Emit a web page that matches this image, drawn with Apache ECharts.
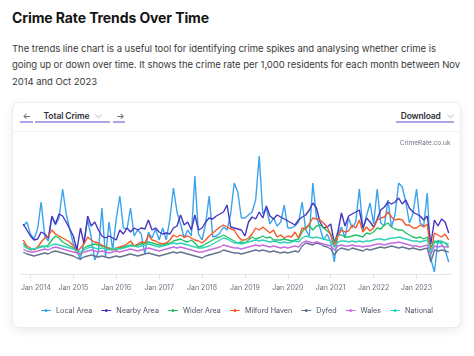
<!DOCTYPE html>
<html>
<head>
<meta charset="utf-8">
<script src="https://cdn.jsdelivr.net/npm/echarts@6/dist/echarts.min.js"></script>
<style>
  html,body{margin:0;padding:0;}
  body{width:474px;height:356px;position:relative;overflow:hidden;background:#fff;font-family:Inter,"Noto Sans",sans-serif;}
  .abs{position:absolute;white-space:nowrap;}
  #title{left:12px;top:10.2px;font-size:14px;line-height:15px;font-weight:700;color:#141414;}
  .pl{left:12px;font-size:9.5px;line-height:16.5px;color:#3a3a3a;}
  #card{position:absolute;left:12px;top:102px;width:449px;height:226px;box-sizing:border-box;border:1px solid #ececf1;border-radius:7px;background:#fff;box-shadow:0 3px 10px rgba(0,0,0,0.08);}
  #sep{position:absolute;left:13px;top:131px;width:447px;height:1px;background:#f3f3f6;}
  .tb{font-size:8.5px;line-height:10px;font-weight:600;color:#2f2f3a;top:110.7px;}
  .arrow{font-size:9px;line-height:10px;color:#555;top:110.5px;font-weight:400;}
  .ul{position:absolute;height:1.5px;background:#aaa5e4;top:121px;}
  #chart{position:absolute;left:0;top:0;width:474px;height:356px;}
</style>
</head>
<body>
<div id="title" class="abs" data-w="197">Crime Rate Trends Over Time</div>
<div class="abs pl" style="top:40.8px" data-w="424">The trends line chart is a useful tool for identifying crime spikes and analysing whether crime is</div>
<div class="abs pl" style="top:57.3px" data-w="448">going up or down over time. It shows the crime rate per 1,000 residents for each month between Nov</div>
<div class="abs pl" style="top:73.8px" data-w="85">2014 and Oct 2023</div>

<div id="card"></div>
<div id="sep"></div>
<div class="abs arrow" style="left:22.5px">&#8592;</div>
<div class="ul" style="left:19.5px;width:13px"></div>
<div class="abs tb" style="left:43.5px" data-w="46">Total Crime</div>
<svg class="abs" style="left:95px;top:113.5px" width="7" height="5"><polyline points="0.5,0.8 3.5,3.6 6.5,0.8" fill="none" stroke="#a0a3ad" stroke-width="0.8"/></svg>
<div class="ul" style="left:35px;width:75px"></div>
<div class="abs arrow" style="left:116px">&#8594;</div>
<div class="ul" style="left:112.7px;width:12.6px"></div>
<div class="abs tb" style="left:400.7px" data-w="40">Download</div>
<svg class="abs" style="left:446.5px;top:113.5px" width="7" height="5"><polyline points="0.5,0.8 3.5,3.6 6.5,0.8" fill="none" stroke="#a0a3ad" stroke-width="0.8"/></svg>
<div class="ul" style="left:396px;width:58px"></div>

<div id="chart"></div>

<script>
// ---------------- DATA ----------------
const startYear = 2013;
const startMonth = 11;
const monthCount = 120;
const tickLabels = ['Jan 2014','Jan 2015','Jan 2016','Jan 2017','Jan 2018','Jan 2019','Jan 2020','Jan 2021','Jan 2022','Jan 2023'];
const seriesNames = ['Local Area','Nearby Area','Wider Area','Milford Haven','Dyfed','Wales','National'];

const localArea = [
  48,52,40,35,45,72,38,33,57,49,
  56,85,60,45,30,24,14,34,54,37,
  14,22,66,17,52,24,55,78,46,45,
  66,38,44,40,20,42,36,45,34,46,
  34,55,86,62,50,36,44,38,98,40,
  34,50,78,37,38,41,47,44,60,91,
  82,56,56,59,62,74,118,60,66,50,
  56,48,52,69,46,46,48,52,72,44,
  38,91,57,46,34,40,32,12,40,47,
  36,56,46,52,85,44,58,71,50,85,
  51,48,74,47,60,91,87,72,51,60,
  85,51,48,81,15,2,34,30,24,12
];
const nearbyArea = [
  50,44,38,34,35,42,40,36,58,50,
  60,58,52,45,38,24,46,30,58,48,
  52,44,38,36,38,36,34,44,40,46,
  42,46,44,46,45,54,44,46,42,40,
  41,40,46,48,59,49,52,44,59,44,
  46,52,56,55,58,60,62,69,47,46,
  45,44,38,52,57,55,62,56,68,58,
  55,59,57,55,53,51,49,54,57,59,
  64,71,66,52,46,47,50,31,42,61,
  48,58,60,62,64,46,56,52,47,55,
  64,67,72,70,72,76,70,74,66,62,
  60,58,54,58,30,54,48,55,52,41
];
const widerArea = [
  31,26,24,25,26,28,27,29,34,38,
  36,32,30,28,26,22,19,26,28,29,
  30,29,28,27,26,25,24,26,27,28,
  29,28,29,30,31,32,31,30,29,29,
  30,31,33,34,35,33,32,34,31,27,
  28,30,32,34,36,37,39,37,35,33,
  31,32,31,34,37,35,36,38,36,37,
  34,34,34,35,34,33,34,35,42,47,
  48,44,48,49,46,43,40,31,39,39,
  37,37,38,39,38,37,41,40,42,46,
  45,49,51,47,45,44,44,41,39,37,
  36,37,35,37,27,33,32,33,31,27
];
const milfordHaven = [
  34,28,26,24,27,32,36,38,44,40,
  38,36,34,32,28,22,26,30,37,34,
  32,31,29,27,25,24,26,27,28,30,
  33,28,30,32,31,39,34,33,31,30,
  31,34,39,37,39,37,38,36,34,33,
  31,34,38,41,44,47,49,47,45,44,
  38,34,34,36,40,46,44,47,44,41,
  44,37,39,36,38,37,42,36,46,45,
  50,56,55,54,51,47,39,27,38,44,
  42,43,49,46,54,42,47,43,46,54,
  56,57,62,57,54,55,54,49,49,46,
  46,49,47,50,20,41,39,37,40,34
];
const dyfed = [
  22,20,19,18,19,20,21,20,22,23,22,21,
  20,19,18,16,15,17,18,19,18,17,18,17,
  16,17,18,17,18,19,20,19,18,19,20,21,
  20,19,18,19,20,21,22,21,22,21,20,19,
  18,17,16,18,19,20,21,22,24,23,22,21,
  21,20,21,22,23,24,23,24,23,22,23,22,
  21,22,21,22,23,22,28,31,30,29,31,30,
  28,27,25,19,24,26,25,24,26,25,24,23,
  25,24,25,26,27,26,27,28,27,26,27,26,
  25,26,25,24,25,26,12,24,23,24,23,22
];
const wales = [
  25,23,22,22,23,24,25,24,26,27,26,25,
  24,23,22,21,20,22,23,24,23,22,23,22,
  21,22,23,22,23,24,25,24,23,24,25,26,
  25,24,23,24,25,26,27,26,27,26,25,24,
  23,22,22,23,24,25,26,27,29,28,27,26,
  26,25,26,27,28,29,28,29,28,27,28,27,
  26,27,26,27,28,27,31,33,32,31,32,31,
  30,29,28,24,28,29,28,28,29,28,28,27,
  28,28,29,30,30,29,30,31,31,32,31,30,
  29,28,28,27,28,29,20,28,27,28,27,27
];
const national = [
  28,26,25,25,26,27,28,27,29,30,29,28,
  27,26,25,23,22,24,26,27,26,25,26,25,
  24,25,26,25,26,27,28,28,27,28,29,30,
  29,28,27,28,29,30,31,30,31,30,29,28,
  27,26,26,27,28,30,32,34,36,35,33,31,
  31,30,31,32,33,34,33,34,33,32,33,32,
  31,32,31,32,33,32,36,38,37,36,37,36,
  35,34,33,27,32,33,33,32,33,32,33,32,
  33,33,34,35,35,34,35,36,36,37,36,35,
  34,33,33,32,33,34,22,32,31,32,31,30
];
const seriesColors = ['#3aa3ec','#4736bd','#22c466','#f15a2b','#66758f','#c66be2','#31d3b8'];

// month categories (Nov 2013 .. Oct 2023)
const months = [];
for (let k = 0; k < monthCount; k++) {
  const m = (startMonth - 1 + k) % 12 + 1;
  const y = startYear + Math.floor((startMonth - 1 + k) / 12);
  months.push(y + '-' + String(m).padStart(2, '0'));
}
const seriesData = [localArea, nearbyArea, widerArea, milfordHaven, dyfed, wales, national];

// ---------------- text width fitting ----------------
document.querySelectorAll('[data-w]').forEach(el => {
  const target = +el.dataset.w;
  const w = el.getBoundingClientRect().width;
  const n = el.textContent.length;
  el.style.letterSpacing = ((target - w) / n) + 'px';
});

// ---------------- CHART ----------------
const isJan = (i, v) => v.slice(5) === '01';
const lineDotIcon = 'path://M0,4H20V6H0Z M13,5A3,3 0 1 1 7,5A3,3 0 1 1 13,5Z';
const chart = echarts.init(document.getElementById('chart'), null, {renderer: 'canvas'});
chart.setOption({
  animation: false,
  grid: {left: 21.5, right: 23.5, top: 130, bottom: 82},
  xAxis: {
    type: 'category',
    data: months,
    boundaryGap: true,
    axisLine: {lineStyle: {color: '#e3e5ea', width: 1}},
    axisTick: {show: true, alignWithLabel: true, interval: isJan, length: 5, lineStyle: {color: '#e3e5ea'}},
    axisLabel: {
      interval: isJan,
      margin: 10,
      color: '#6b7280',
      fontSize: 7,
      fontFamily: 'Inter',
      formatter: v => {
        const idx = +v.slice(0, 4) - 2014;
        const t = tickLabels[idx];
        return idx === 0 ? '{first|' + t + '}' : t;
      },
      rich: {first: {padding: [0, 0, 0, 11], fontSize: 7, color: '#6b7280', fontFamily: 'Inter'}}
    },
    splitLine: {show: false}
  },
  yAxis: {type: 'value', min: 0, max: 144, show: false},
  legend: {
    data: seriesNames.map(n => ({name: n, icon: lineDotIcon})),
    top: 302,
    left: 'center',
    itemWidth: 10,
    itemHeight: 3,
    itemGap: 9,
    textStyle: {fontSize: 7.2, color: '#4b5563', fontFamily: 'Inter'}
  },
  graphic: [{
    type: 'text', right: 23.5, top: 140,
    style: {text: 'CrimeRate.co.uk', fill: '#6b7280', font: '6.5px Inter'}
  }],
  series: seriesNames.map((name, k) => ({
    name: name,
    type: 'line',
    data: seriesData[k],
    color: seriesColors[k],
    symbol: 'circle',
    symbolSize: 4,
    showSymbol: false,
    lineStyle: {width: 1.4, color: seriesColors[k]},
    emphasis: {disabled: true}
  }))
});
</script>
</body>
</html>
